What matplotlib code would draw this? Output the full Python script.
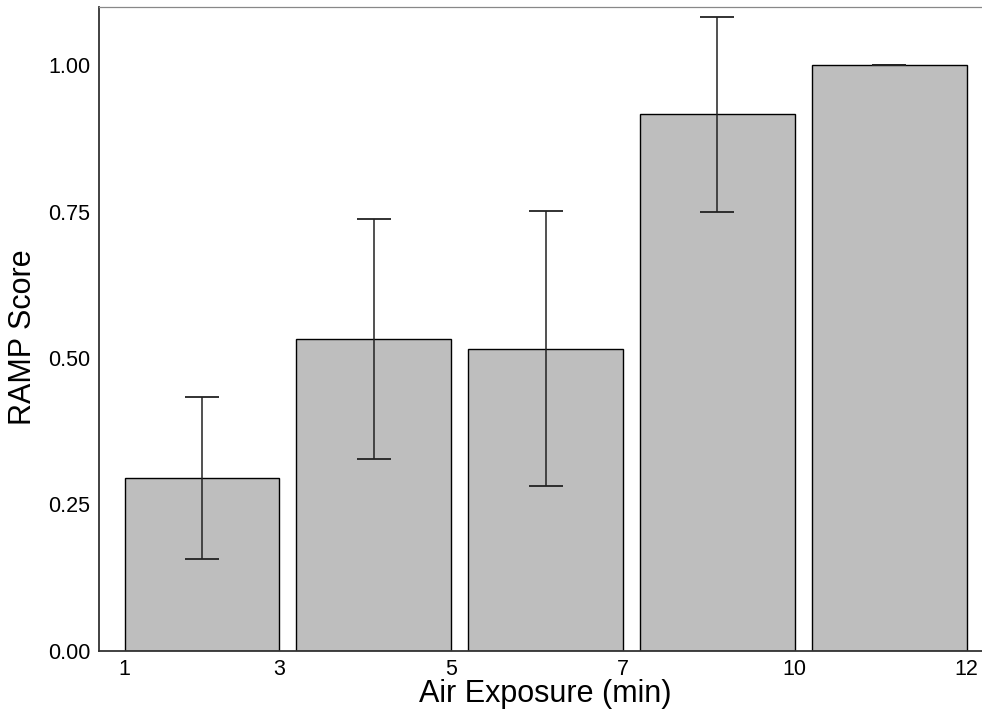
import matplotlib
matplotlib.use("Agg")
import matplotlib.pyplot as plt
import numpy as np

plt.rcParams['font.family'] = ['Liberation Sans', 'DejaVu Sans']

# Data
bins = ["1-3", "3-5", "5-7", "7-10", "10-12"]
ramp_mean = [0.295, 0.533, 0.516, 0.916, 1.000]
ramp_se = [0.139, 0.205, 0.235, 0.167, 0.000]
tick_labels = ["1", "3", "5", "7", "10", "12"]

W, H = 982, 710
fig = plt.figure(figsize=(W / 100, H / 100), dpi=100)
left_px, right_px, top_px, bottom_px = 98.7, 982.0, 6.7, 650.7
ax = fig.add_axes([left_px / W, 1 - bottom_px / H,
                   (right_px - left_px) / W, (bottom_px - top_px) / H])

x = np.arange(1, len(bins) + 1)
width = 0.9
ax.bar(x, ramp_mean, width=width, color="#bebebe", edgecolor="black",
       linewidth=1.0, zorder=2)
ax.errorbar(x, ramp_mean, yerr=ramp_se, fmt="none", ecolor="#222222",
            elinewidth=1.1, capsize=12.2, capthick=1.3, zorder=3)

# x scale: 171.85 px per unit, bar1 center at 201.9 px
ppu = 171.85
ax.set_xlim(1 - (201.9 - left_px) / ppu, 5 + (right_px - 889.3) / ppu)
ax.set_ylim(0, 1.1)

edges = [1 - width / 2] + [i + width / 2 for i in x]
ax.set_xticks(edges)
ax.set_xticklabels(tick_labels)
ax.set_yticks([0, 0.25, 0.5, 0.75, 1.0])
ax.set_yticklabels(["0.00", "0.25", "0.50", "0.75", "1.00"])
ax.tick_params(axis="both", length=0, labelsize=15.5, colors="black")
ax.tick_params(axis="x", pad=6)
ax.tick_params(axis="y", pad=6)

fig.text(545 / W, 1 - 702 / H, "Air Exposure (min)", fontsize=22,
         ha="center", va="baseline")
fig.text(23 / W, 1 - 337 / H, "RAMP Score", fontsize=22, rotation=90,
         ha="center", va="center")

for s in ["left", "bottom"]:
    ax.spines[s].set_color("#333333")
    ax.spines[s].set_linewidth(1.3)
ax.spines["top"].set_color("#888888")
ax.spines["top"].set_linewidth(0.9)
ax.spines["right"].set_visible(False)

fig.savefig("out.png", dpi=100)
